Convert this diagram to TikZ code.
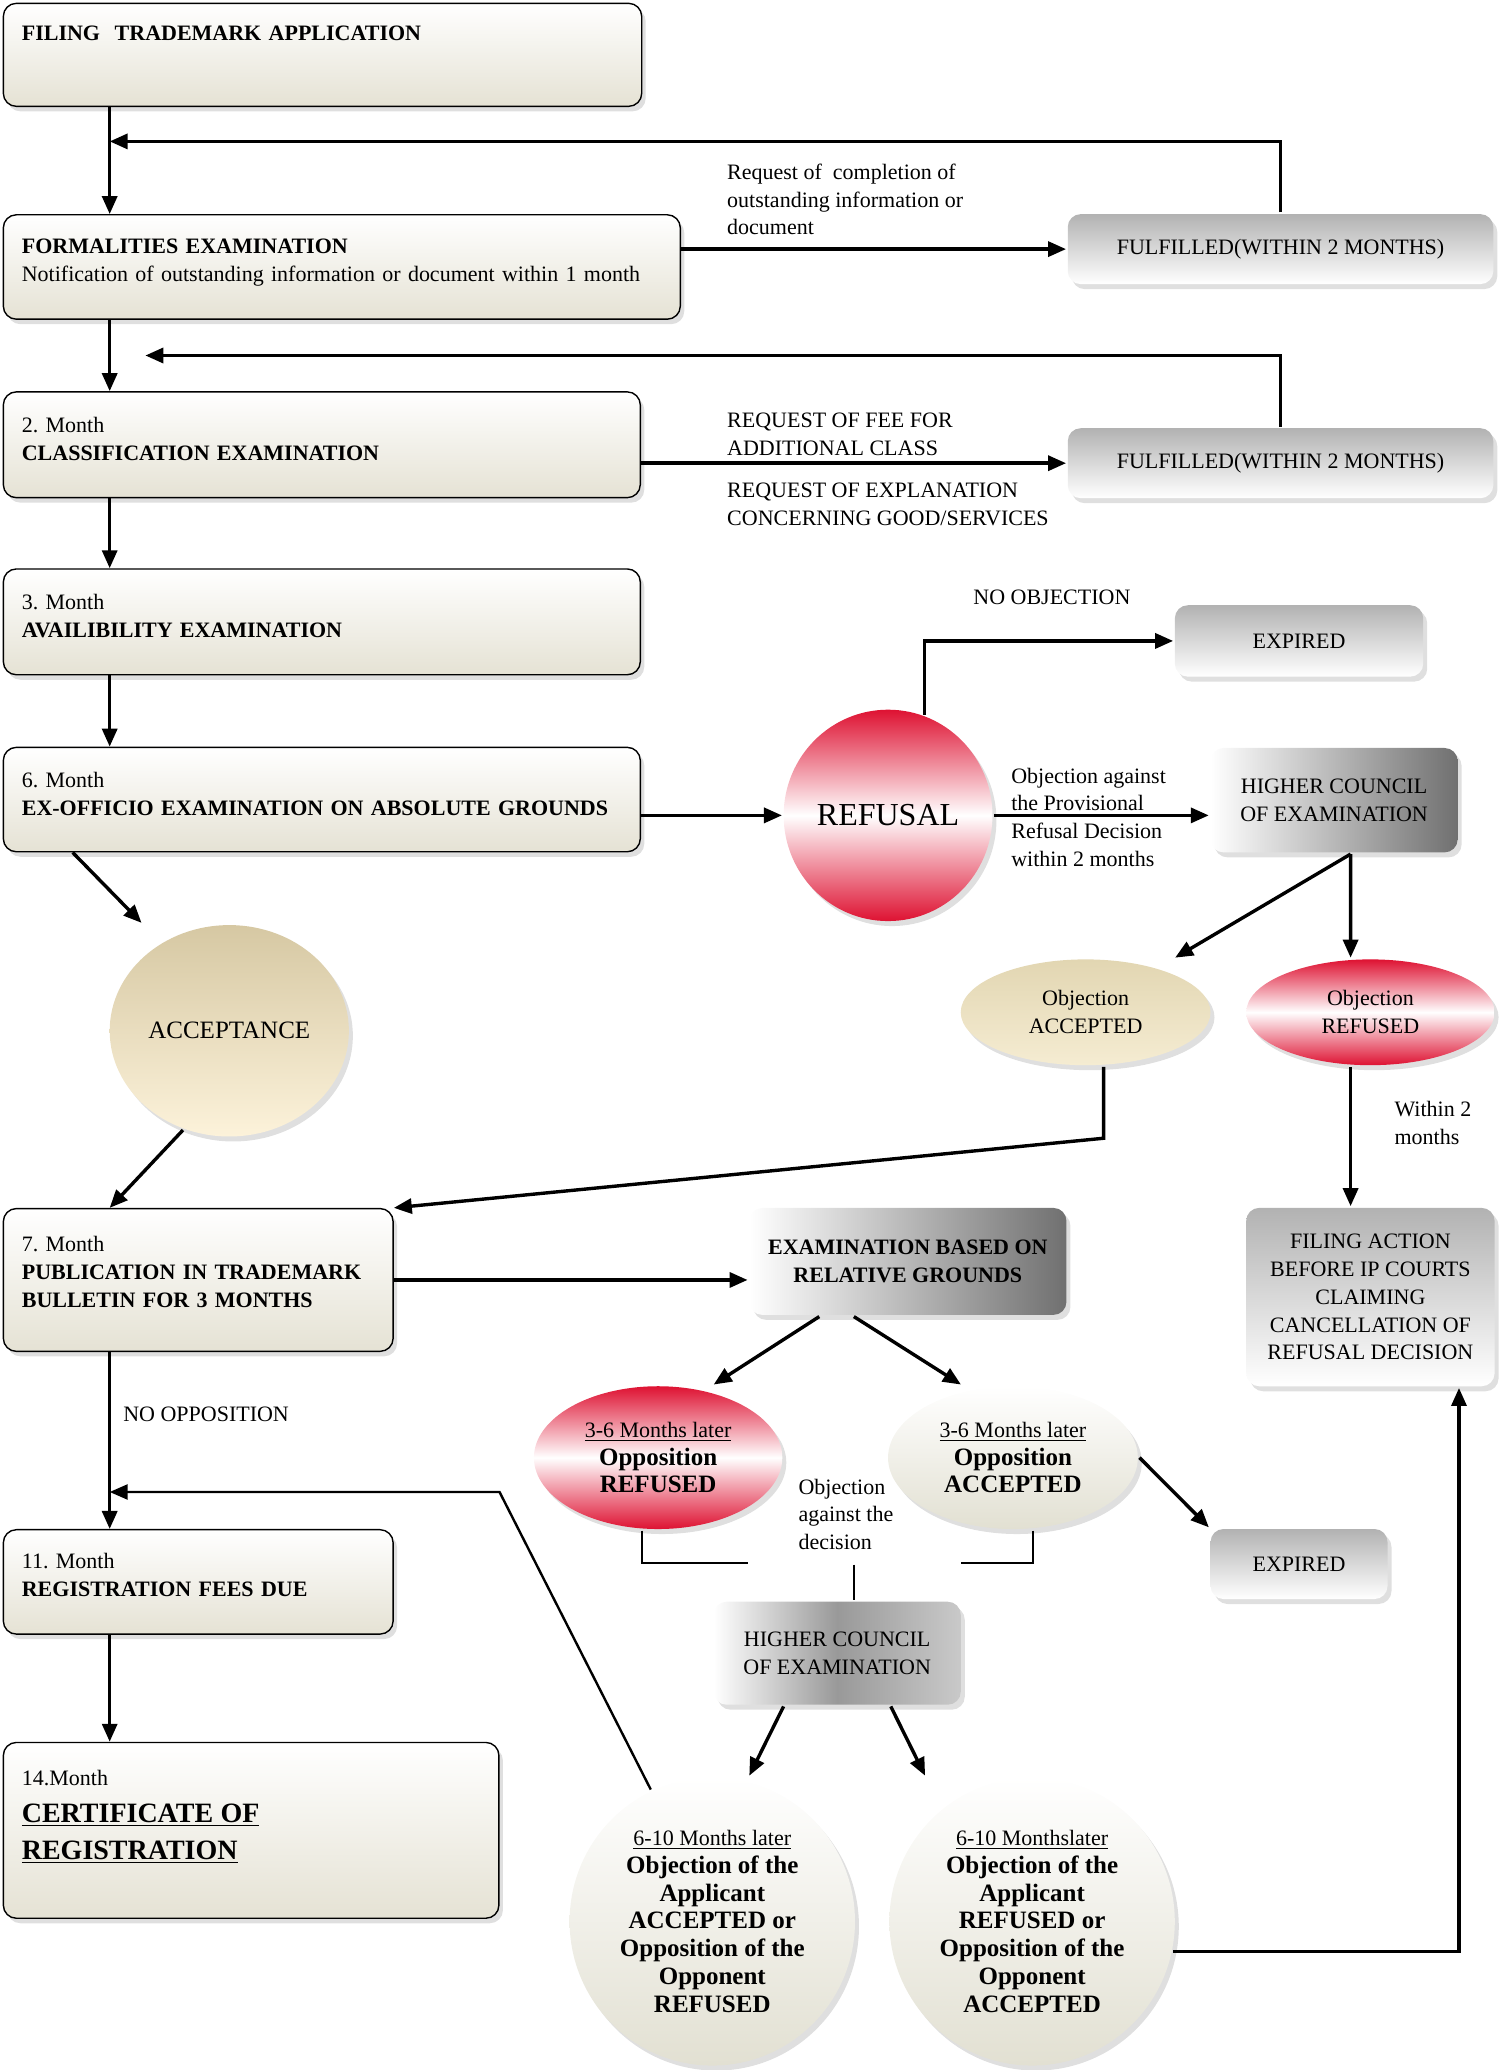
\documentclass[tikz,border=0pt]{standalone}
\usepackage{fontspec}
\setmainfont{Liberation Serif}
\frenchspacing
\usetikzlibrary{arrows.meta,shapes.geometric,shadows}
\definecolor{boxbeige}{RGB}{229,226,212}
\definecolor{boxgrey}{RGB}{178,178,178}
\definecolor{darkgrey}{RGB}{112,112,112}
\definecolor{refred}{RGB}{222,18,50}
\definecolor{acctop}{RGB}{214,200,163}
\definecolor{accbot}{RGB}{252,242,218}
\definecolor{objtop}{RGB}{226,214,178}
\definecolor{objbot}{RGB}{245,236,210}
\definecolor{pale}{RGB}{226,224,210}
\newcommand{\stdfont}{\fontsize{11}{13.9}\selectfont}
\newcommand{\boldbig}[1]{{\fontsize{12.5}{13.9}\selectfont\bfseries #1}}
\tikzset{
  dropsh/.style={drop shadow={opacity=0.25,shadow xshift=2pt,shadow yshift=-2.5pt}},
  stage/.style={draw, line width=0.7pt, rounded corners=6.5pt, top color=white, bottom color=boxbeige, dropsh,
    anchor=north west, align=left, inner xsep=9.25pt, inner ysep=0pt},
  greybox/.style={rounded corners=6.5pt, top color=boxgrey, bottom color=white, dropsh, align=center, inner sep=0pt},
  darkbox/.style={rounded corners=6.5pt, left color=white, right color=darkgrey, dropsh, align=center, inner sep=0pt},
  midbox/.style={rounded corners=6.5pt, left color=white, right color=boxgrey!70, middle color=gray!80, dropsh, align=center, inner sep=0pt},
  oval/.style={ellipse, inner sep=0pt, align=center, dropsh},
  redoval/.style={oval, top color=refred, bottom color=refred, middle color=white},
  note/.style={anchor=west, align=left, inner sep=0pt},
  thinline/.style={line width=1pt}
}
\begin{document}
\begin{tikzpicture}[x=0.6608pt,y=-0.6608pt,line width=1.7pt,>={Triangle[length=9pt,width=7.5pt]},font=\stdfont]
	\useasboundingbox (0,0) rectangle (1135,1566.4);
	\path (83,0) coordinate (spine)
	(83,107) coordinate (fb1)
	(110,269) coordinate (fb2)
	(378,1129) coordinate (bend)
	(566,1183) coordinate (jl)
	(727,1183) coordinate (jr)
	(646,1184) coordinate (jm);
	% left column
	\node[stage, text width=300.7pt, text height=18.8pt, text depth=32.7pt] (b1) at (2,2) {\textbf{FILING\ \ TRADEMARK APPLICATION}};
	\node[stage, text width=320pt, text height=19.5pt, text depth=32.7pt] (b2) at (2,162) {\textbf{FORMALITIES EXAMINATION}\\Notification of outstanding information or document within 1 month};
	\node[stage, text width=300pt, text height=20.2pt, text depth=32.7pt] (b3) at (2,296) {2. Month\\\textbf{CLASSIFICATION EXAMINATION}};
	\node[stage, text width=300pt, text height=20.2pt, text depth=32.7pt] (b4) at (2,430) {3. Month\\\textbf{AVAILIBILITY EXAMINATION}};
	\node[stage, text width=300pt, text height=20.2pt, text depth=32pt] (b5) at (2,565) {6. Month\\\textbf{EX-OFFICIO EXAMINATION ON ABSOLUTE GROUNDS}};
	\node[stage, text width=176.4pt, text height=21.5pt, text depth=49.9pt] (b6) at (2,914) {7. Month\\\textbf{PUBLICATION IN TRADEMARK}\\\textbf{BULLETIN FOR 3 MONTHS}};
	\node[stage, text width=176.4pt, text height=19.5pt, text depth=32.7pt] (b7) at (2,1157) {11. Month\\\textbf{REGISTRATION FEES DUE}};
	\node[stage, text width=229.3pt, text height=21.5pt, text depth=66.4pt] (b8) at (2,1318) {14.Month\\{\fontsize{14}{18.5}\selectfont\bfseries\underline{CERTIFICATE OF}\\\underline{REGISTRATION}\par}};
	% grey boxes
	\node[greybox, minimum width=212.8pt, minimum height=35pt] (f1) at (969,188.5) {FULFILLED(WITHIN 2 MONTHS)};
	\node[greybox, minimum width=212.8pt, minimum height=35pt] (f2) at (969,350.5) {FULFILLED(WITHIN 2 MONTHS)};
	\node[greybox, minimum width=124.2pt, minimum height=35.7pt] (exp1) at (983,485) {EXPIRED};
	\node[darkbox, minimum width=123.6pt, minimum height=52.2pt] (hc1) at (1009.5,605.5) {HIGHER COUNCIL\\OF EXAMINATION};
	\node[darkbox, minimum width=158.6pt, minimum height=53.5pt] (erg) at (687,954.5) {\textbf{EXAMINATION BASED ON}\\\textbf{RELATIVE GROUNDS}};
	\node[greybox, minimum width=124.2pt, minimum height=89.2pt] (fa) at (1037,981.5) {FILING ACTION\\BEFORE IP COURTS\\CLAIMING\\CANCELLATION OF\\REFUSAL DECISION};
	\node[greybox, minimum width=88.5pt, minimum height=35pt] (exp2) at (983,1183.5) {EXPIRED};
	\node[midbox, minimum width=123.6pt, minimum height=51.5pt] (hc2) at (633.5,1251) {HIGHER COUNCIL\\OF EXAMINATION};
	% ovals
	\node[redoval, minimum width=104.4pt, minimum height=105.7pt, font=\fontsize{16}{19}\selectfont] (ref) at (672,617) {REFUSAL};
	\node[oval, top color=acctop, bottom color=accbot, minimum width=119.6pt, minimum height=105.7pt, font=\fontsize{12.5}{15}\selectfont] (acc) at (173.5,780) {ACCEPTANCE};
	\node[oval, top color=objtop, bottom color=objbot, minimum width=124.9pt, minimum height=52.9pt] (oba) at (821.5,766) {Objection\\ACCEPTED};
	\node[redoval, minimum width=124.2pt, minimum height=52.9pt] (obr) at (1037,766) {Objection\\REFUSED};
	\node[redoval, minimum width=124.2pt, minimum height=71.4pt] (opr) at (498,1103) {\underline{3-6 Months later}\\\boldbig{Opposition}\\\boldbig{REFUSED}};
	\node[oval, top color=white, bottom color=pale, minimum width=124.9pt, minimum height=71.4pt] (opa) at (766.5,1103) {\underline{3-6 Months later}\\\boldbig{Opposition}\\\boldbig{ACCEPTED}};
	\node[oval, top color=white, bottom color=pale, minimum width=142.7pt, minimum height=144.1pt] (da) at (539,1454) {\underline{6-10 Months later}\\\boldbig{Objection of the}\\\boldbig{Applicant}\\\boldbig{ACCEPTED or}\\\boldbig{Opposition of the}\\\boldbig{Opponent}\\\boldbig{REFUSED}};
	\node[oval, top color=white, bottom color=pale, minimum width=142.7pt, minimum height=144.1pt] (dr) at (781,1454) {\underline{6-10 Monthslater}\\\boldbig{Objection of the}\\\boldbig{Applicant}\\\boldbig{REFUSED or}\\\boldbig{Opposition of the}\\\boldbig{Opponent}\\\boldbig{ACCEPTED}};
	% labels
	\node[note] (reqinfo) at (549,151) {Request of\ \ completion of\\outstanding information or\\document};
	\node[note] (reqfee) at (549,328.5) {REQUEST OF FEE FOR\\ADDITIONAL CLASS};
	\node[note] (reqexp) at (549,381.5) {REQUEST OF EXPLANATION\\CONCERNING GOOD/SERVICES};
	\node[inner sep=0pt] (noobj) at (796,452) {NO OBJECTION};
	\node[note] (objprov) at (764,618.5) {Objection against\\the Provisional\\Refusal Decision\\within 2 months};
	\node[note] (within) at (1054,849.5) {Within 2\\months};
	\node[note] (noopp) at (92,1070) {NO OPPOSITION};
	\node[note] (objdec) at (603,1146) {Objection\\against the\\decision};
	% connectors
	\foreach \a/\b in {b1/b2,b2/b3,b3/b4,b4/b5,b6/b7,b7/b8}{
		\draw[->] (\a.south -| spine) -- (\b.north -| spine);
	}
	\draw[->] (f1.north) |- (fb1);
	\draw[->] (f2.north) |- (fb2);
	\draw[->] (b2.east |- f1.west) -- (f1.west);
	\draw[->] (b3.east |- f2.west) -- (f2.west);
	\draw[->] (b5.east |- ref.west) -- (ref.west);
	\draw[->] (ref.70) |- (exp1.west);
	\draw[->] (ref.east) -- (ref.east -| hc1.west);
	\draw[->] ([xshift=8.3pt]hc1.south) -- ([yshift=8pt]oba.north east);
	\draw[->] ([xshift=8.3pt]hc1.south) -- ([xshift=-9.9pt]obr.north);
	\draw[->] ([xshift=9pt]oba.south) -- ++(0,54) -- (b6.north east);
	\draw[->] ([xshift=-9.9pt]obr.south) -- ([xshift=-9.9pt]obr.south |- fa.north);
	\draw[->] ([xshift=35pt]b5.south west) -- ([shift={(-1pt,16pt)}]acc.north west);
	\draw[->] (acc.245) -- (b6.north -| spine);
	\draw[->] (b6.east) -- (b6.east -| erg.west);
	\draw[->] ([xshift=-44.3pt]erg.south) -- ([xshift=27.8pt]opr.north);
	\draw[->] ([xshift=-27pt]erg.south) -- ([xshift=-26pt]opa.north);
	\draw[->] (opa.east) -- (exp2.north west);
	\draw[thinline] ([xshift=-8pt]opr.south) |- (jl);
	\draw[thinline] ([xshift=9.9pt]opa.south) |- (jr);
	\draw[thinline] (jm) -- (jm |- hc2.north);
	\draw[->,line width=1.2pt] (da.115) -- (bend) -- (bend -| spine);
	\draw[->] ([xshift=-26.8pt]hc2.south) -- ([xshift=18.5pt]da.north);
	\draw[->] ([xshift=26.8pt]hc2.south) -- ([xshift=-53.5pt]dr.north);
	\draw[->] (dr.-12) -| ([xshift=44.3pt]fa.south);
\end{tikzpicture}
\end{document}
